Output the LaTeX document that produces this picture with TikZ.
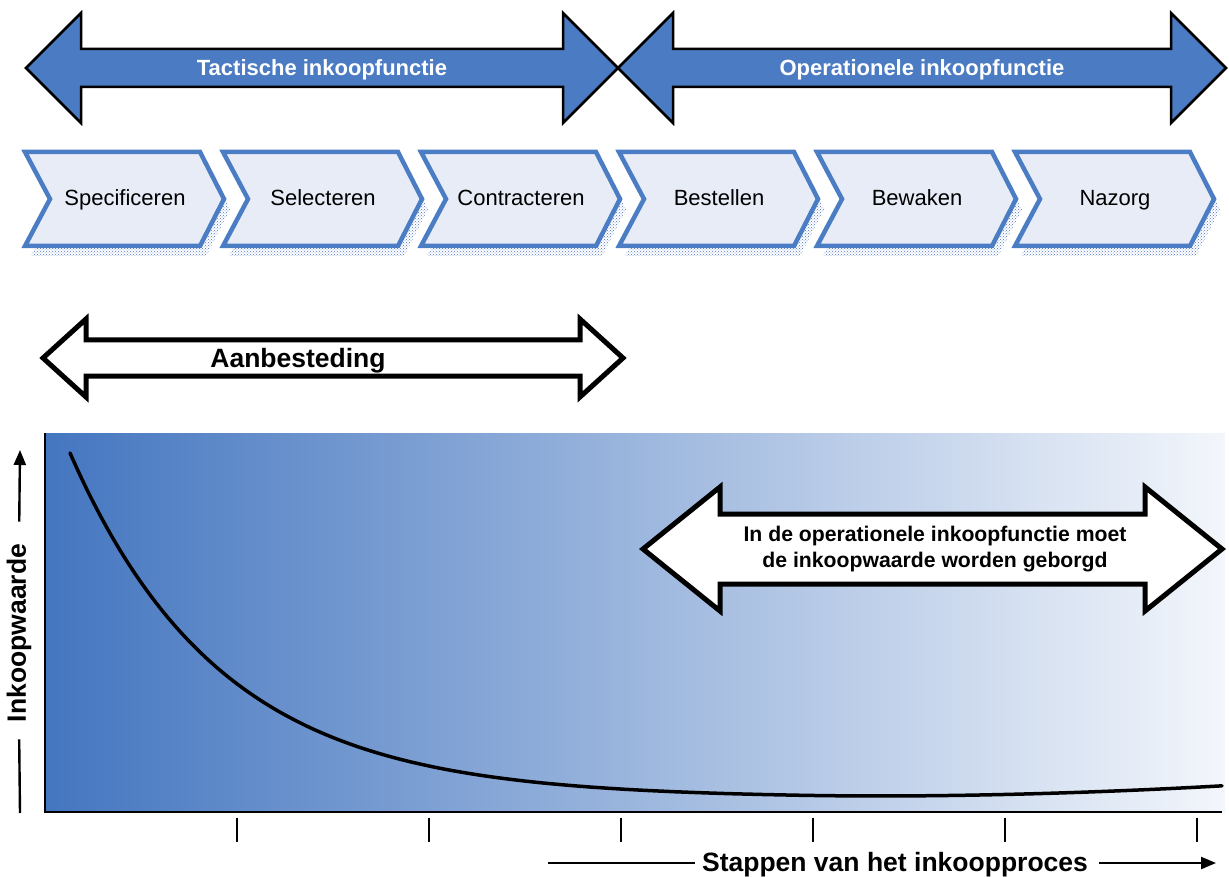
\documentclass[tikz,border=0pt]{standalone}
\usepackage{fontspec}
\setmainfont{Liberation Sans}
\usetikzlibrary{patterns,arrows.meta}

\definecolor{arrowblue}{RGB}{74,123,195}
\definecolor{chevblue}{RGB}{74,125,196}
\definecolor{chevfill}{RGB}{232,236,247}
\definecolor{shadowdot}{RGB}{75,115,190}
\definecolor{gradleft}{RGB}{68,118,192}
\definecolor{gradright}{RGB}{243,246,251}

% double-headed block arrow: style, left tip x, right tip x, centre y,
% half head height, half shaft height, head length
\newcommand\blockarrow[7]{%
  \draw[#1] (#2,#4) -- (#2+#7,#4-#5) -- (#2+#7,#4-#6) -- (#3-#7,#4-#6)
    -- (#3-#7,#4-#5) -- (#3,#4) -- (#3-#7,#4+#5) -- (#3-#7,#4+#6)
    -- (#2+#7,#4+#6) -- (#2+#7,#4+#5) -- cycle;}

% one process step: left x, node name, text
\newcommand\processstep[3]{%
  \fill[pattern=crosshatch dots, pattern color=shadowdot, shift={(6,10)}]
    (#1,152) -- (#1+175,152) -- (#1+199,199) -- (#1+175,246) -- (#1,246) -- (#1+25,199) -- cycle;
  \draw[chevron]
    (#1,152) -- (#1+175,152) -- (#1+199,199) -- (#1+175,246) -- (#1,246) -- (#1+25,199) -- cycle;
  \node[steplabel] (#2) at (#1+100,206) {#3};}

\tikzset{
  phasearrow/.style={fill=arrowblue, draw=black, line width=2.5pt, line join=miter},
  whitearrow/.style={fill=white, draw=black, line width=5pt, line join=miter},
  chevron/.style={fill=chevfill, draw=chevblue, line width=4.5pt, line join=miter},
  steplabel/.style={font=\fontsize{22}{26}\selectfont, inner sep=0pt, anchor=base},
  phaselabel/.style={font=\fontsize{22}{26}\selectfont\bfseries, text=white, inner sep=0pt, anchor=base},
  boldlabel/.style={font=\fontsize{26.5}{30}\selectfont\bfseries, inner sep=0pt},
  notelabel/.style={font=\fontsize{21.2}{26}\selectfont\bfseries, align=center, inner sep=0pt},
  axisline/.style={line width=2.5pt},
  tick/.style={line width=2pt},
  guide/.style={line width=2.4pt},
}

\begin{document}
\begin{tikzpicture}[x=1pt, y=-1pt]
  \useasboundingbox (0,0) rectangle (1229,877);

  % phase arrows
  \blockarrow{phasearrow}{26}{618}{68}{55}{19}{55}
  \blockarrow{phasearrow}{618}{1226}{68}{55}{19}{55}
  \node[phaselabel] (tact) at (322,76) {Tactische inkoopfunctie};
  \node[phaselabel] (oper) at (922,76) {Operationele inkoopfunctie};

  % process steps
  \processstep{25}{s1}{Specificeren}
  \processstep{223}{s2}{Selecteren}
  \processstep{421}{s3}{Contracteren}
  \processstep{619}{s4}{Bestellen}
  \processstep{817}{s5}{Bewaken}
  \processstep{1015}{s6}{Nazorg}

  % tender span
  \blockarrow{whitearrow}{43}{623}{358}{39}{18}{43}
  \node[boldlabel, anchor=base] (tender) at (298,367) {Aanbesteding};

  % chart area
  \shade[left color=gradleft, right color=gradright] (45,433) rectangle (1225,812);
  \draw[axisline] (45,433) -- (45,812) -- (1222,812);
  \foreach \tx in {237,429,621,813,1005,1197}
    \draw[tick] (\tx,818) -- (\tx,842);

  % purchasing value curve
  \draw[line width=3.5pt, line cap=round]
    plot[domain=70:1222, samples=140, smooth]
    (\x, {798-345*exp(-(\x-70)/151)-12*(max(0,(\x-800)/422))^2});

  % operational note
  \blockarrow{whitearrow}{643}{1222}{549}{62}{35}{77}
  \node[notelabel] (note) at (935,549)
    {In de operationele inkoopfunctie moet\\de inkoopwaarde worden geborgd};

  % axis labels
  \node[boldlabel, rotate=90] (ylab) at (19,633) {Inkoopwaarde};
  \coordinate (ytop) at (20,450);
  \coordinate (ybot) at (20,813);
  \draw[guide, -{Triangle[length=15pt, width=12pt]}, shorten <=22pt] (ylab.east) -- (ytop);
  \draw[guide, shorten <=17pt] (ylab.west) -- (ybot);

  \node[boldlabel, anchor=base] (xlab) at (895,871) {Stappen van het inkoopproces};
  \coordinate (xleft) at (548,863);
  \coordinate (xright) at (1216,863);
  \draw[guide, shorten >=7pt] (xleft) -- (xlab.west |- xleft);
  \draw[guide, -{Triangle[length=15pt, width=12pt]}, shorten <=11pt] (xlab.east |- xright) -- (xright);
\end{tikzpicture}
\end{document}
